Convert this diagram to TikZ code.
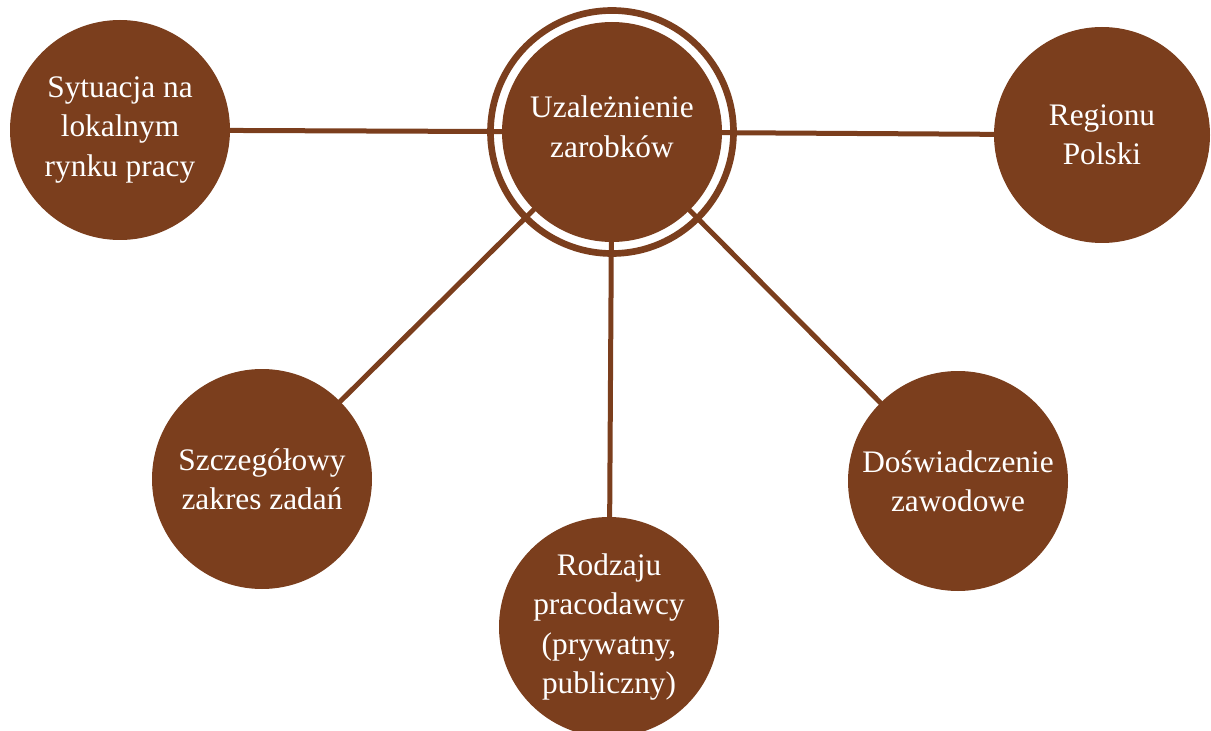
\documentclass[tikz,border=0pt]{standalone}
\usepackage{fontspec}
\setmainfont{Liberation Serif}
\definecolor{brownc}{RGB}{123,62,29}
\tikzset{
  txt/.style={text=white, align=center, font=\fontsize{23.5}{29.5}\selectfont},
  bub/.style={circle, fill=brownc, minimum size=165pt, inner sep=0pt, txt},
  link/.style={draw=brownc, line width=3.75pt},
  ring/.style={draw=brownc, line width=5pt}
}
\begin{document}
\begin{tikzpicture}[x=0.75pt,y=-0.75pt]
\useasboundingbox (0,0) rectangle (1211,731);
\coordinate (c) at (612,132);
\coordinate (lp) at (120,130);
\coordinate (rp) at (1102,135);
\coordinate (sp) at (262,479);
\coordinate (dp) at (958,481);
\coordinate (bp) at (609,627);
\draw[link] (c) -- (lp);
\draw[link] (c) -- (rp);
\draw[link] (c) -- (sp);
\draw[link] (c) -- (dp);
\draw[link] (c) -- (bp);
\draw[ring] (c) circle[radius=121.5];
\node[bub] (center) at (c) {};
\node[txt] (centertext) at ([yshift=4pt]c) {Uzależnienie\\zarobków};
\node[bub] (left) at (lp) {Sytuacja na\\lokalnym\\rynku pracy};
\node[bub, minimum size=162pt] (right) at (rp) {Regionu\\Polski};
\node[bub] (szcz) at (sp) {Szczegółowy\\zakres zadań};
\node[bub] (dosw) at (dp) {Doświadczenie\\zawodowe};
\node[bub] (bottom) at (bp) {Rodzaju\\pracodawcy\\(prywatny,\\publiczny)};
\end{tikzpicture}
\end{document}
